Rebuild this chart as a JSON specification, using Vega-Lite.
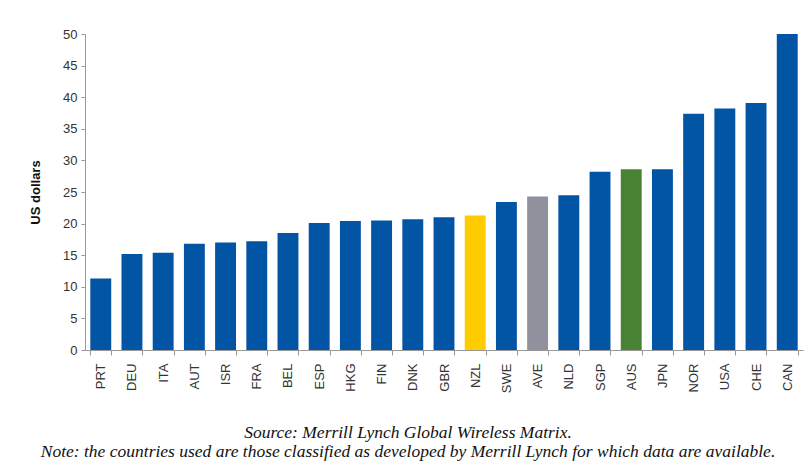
{
  "$schema": "https://vega.github.io/schema/vega-lite/v6.json",
  "width": 718,
  "height": 316,
  "autosize": {"type": "none"},
  "padding": {"left": 85, "top": 34, "right": 4, "bottom": 121},
  "background": "white",
  "data": {
    "values": [
      {"country": "PRT", "value": 11.3, "group": "other"},
      {"country": "DEU", "value": 15.2, "group": "other"},
      {"country": "ITA", "value": 15.4, "group": "other"},
      {"country": "AUT", "value": 16.8, "group": "other"},
      {"country": "ISR", "value": 17.0, "group": "other"},
      {"country": "FRA", "value": 17.2, "group": "other"},
      {"country": "BEL", "value": 18.5, "group": "other"},
      {"country": "ESP", "value": 20.1, "group": "other"},
      {"country": "HKG", "value": 20.4, "group": "other"},
      {"country": "FIN", "value": 20.5, "group": "other"},
      {"country": "DNK", "value": 20.7, "group": "other"},
      {"country": "GBR", "value": 21.0, "group": "other"},
      {"country": "NZL", "value": 21.3, "group": "NZL"},
      {"country": "SWE", "value": 23.4, "group": "other"},
      {"country": "AVE", "value": 24.3, "group": "AVE"},
      {"country": "NLD", "value": 24.5, "group": "other"},
      {"country": "SGP", "value": 28.2, "group": "other"},
      {"country": "AUS", "value": 28.6, "group": "AUS"},
      {"country": "JPN", "value": 28.6, "group": "other"},
      {"country": "NOR", "value": 37.4, "group": "other"},
      {"country": "USA", "value": 38.2, "group": "other"},
      {"country": "CHE", "value": 39.1, "group": "other"},
      {"country": "CAN", "value": 50.0, "group": "other"}
    ]
  },
  "title": {
    "text": "Source: Merrill Lynch Global Wireless Matrix.",
    "subtitle": "Note:  the countries used are those classified as developed by Merrill Lynch for which data are available.",
    "orient": "bottom",
    "anchor": "middle",
    "dx": -36,
    "offset": 31,
    "font": "Liberation Serif",
    "fontStyle": "italic",
    "fontWeight": "normal",
    "fontSize": 17.5,
    "color": "#111111",
    "subtitleFont": "Liberation Serif",
    "subtitleFontStyle": "italic",
    "subtitleFontSize": 17.5,
    "subtitleColor": "#111111",
    "subtitlePadding": 2
  },
  "mark": {"type": "bar"},
  "encoding": {
    "x": {
      "field": "country",
      "type": "nominal",
      "sort": null,
      "scale": {"paddingInner": 0.33, "paddingOuter": 0.17},
      "axis": {
        "title": null,
        "labelAngle": -90,
        "labelFont": "Liberation Sans",
        "labelFontSize": 13,
        "labelColor": "#333333",
        "labelPadding": 8,
        "tickBand": "extent",
        "tickSize": 5,
        "tickColor": "#999999",
        "domainColor": "#999999",
        "grid": false
      }
    },
    "y": {
      "field": "value",
      "type": "quantitative",
      "scale": {"domain": [0, 50], "nice": false},
      "axis": {
        "title": "US dollars",
        "titleFont": "Liberation Sans",
        "titleFontSize": 13,
        "titleFontWeight": "bold",
        "titleColor": "#111111",
        "titlePadding": 20,
        "values": [0, 5, 10, 15, 20, 25, 30, 35, 40, 45, 50],
        "labelFont": "Liberation Sans",
        "labelFontSize": 13,
        "labelColor": "#333333",
        "labelPadding": 4,
        "tickSize": 4,
        "tickColor": "#999999",
        "domainColor": "#999999",
        "grid": false
      }
    },
    "color": {
      "field": "group",
      "type": "nominal",
      "scale": {
        "domain": ["other", "NZL", "AVE", "AUS"],
        "range": ["#0254A5", "#FFCC00", "#8F929C", "#4A8233"]
      },
      "legend": null
    }
  },
  "config": {"view": {"stroke": null}}
}
